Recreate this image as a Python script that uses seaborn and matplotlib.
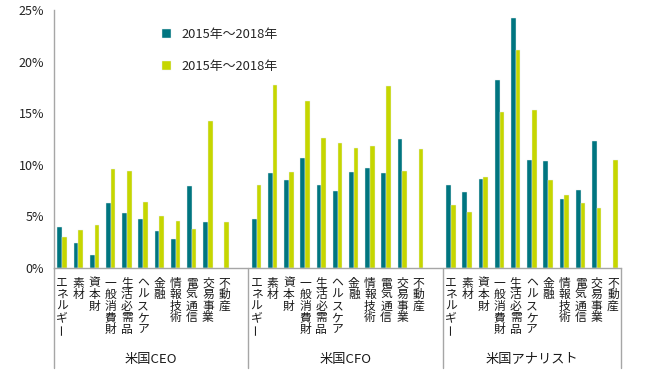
import numpy as np
import pandas as pd
import seaborn as sns
import matplotlib.pyplot as plt
from matplotlib.ticker import PercentFormatter
from matplotlib.transforms import offset_copy

groups = ["米国CEO", "米国CFO", "米国アナリスト"]
sectors = ["エネルギー", "素材", "資本財", "一般消費財", "生活必需品", "ヘルスケア",
           "金融", "情報技術", "電気通信", "交易事業", "不動産"]
series_labels = ["2015年～2018年", "2015年～2018年"]

# values in % (nan = no bar)
ceo_a = [4.0, 2.4, 1.3, 6.3, 5.3, 4.7, 3.6, 2.8, 7.9, 4.5, np.nan]
ceo_b = [3.0, 3.7, 4.2, 9.6, 9.4, 6.4, 5.0, 4.6, 3.8, 14.2, 4.5]
cfo_a = [4.7, 9.2, 8.5, 10.7, 8.0, 7.5, 9.3, 9.7, 9.2, 12.5, np.nan]
cfo_b = [8.0, 17.7, 9.3, 16.2, 12.6, 12.1, 11.6, 11.8, 17.6, 9.4, 11.5]
ana_a = [8.0, 7.4, 8.6, 18.2, 24.2, 10.5, 10.4, 6.7, 7.6, 12.3, np.nan]
ana_b = [6.1, 5.4, 8.8, 15.1, 21.1, 15.3, 8.5, 7.1, 6.3, 5.8, 10.5]

teal = "#007580"
lime = "#c6d600"

sns.set_style("white")
plt.rcParams["font.family"] = ["Noto Sans CJK JP", "DejaVu Sans"]

values = {groups[0]: (ceo_a, ceo_b), groups[1]: (cfo_a, cfo_b), groups[2]: (ana_a, ana_b)}

rows = []
order = []
for gi, g in enumerate(groups):
    for si, s in enumerate(sectors):
        slot = g + "|" + s
        order.append(slot)
        for key, v in zip(["a", "b"], values[g]):
            if not np.isnan(v[si]):
                rows.append({"slot": slot, "series": key, "value": v[si]})
    if gi < len(groups) - 1:
        order.append(g + "|")  # empty spacer slot
df = pd.DataFrame(rows)

fig = plt.figure(figsize=(6.55, 3.84), dpi=100)
ax = fig.add_axes([54 / 655, 1 - 268 / 384, 567 / 655, 258 / 384])

sns.barplot(data=df, x="slot", y="value", hue="series", order=order,
            hue_order=["a", "b"], palette=[teal, lime], saturation=1,
            width=0.58, gap=0, errorbar=None, edgecolor="#e8f0f0",
            linewidth=0.3, ax=ax)

ax.set_xlim(-0.5, len(order) - 0.5)
ax.set_ylim(0, 25)
ax.set_yticks([0, 5, 10, 15, 20, 25])
ax.yaxis.set_major_formatter(PercentFormatter(decimals=0))
ax.tick_params(axis="y", length=4, width=1, color="#a6a6a6", labelsize=9,
               labelcolor="#222222", pad=3)
ax.tick_params(axis="x", length=0, labelbottom=False)
ax.set_xlabel("")
ax.set_ylabel("")
for side in ["top", "right"]:
    ax.spines[side].set_visible(False)
for side in ["left", "bottom"]:
    ax.spines[side].set_color("#a6a6a6")
    ax.spines[side].set_linewidth(1)

# vertical category labels, one character per line
trans = ax.get_xaxis_transform()
for pos, slot in enumerate(order):
    label = slot.split("|")[1]
    for k, ch in enumerate(label):
        t = offset_copy(trans, fig=fig, x=0, y=-(8.5 + k * 11.6) * 0.72, units="points")
        ax.text(pos, 0, ch, transform=t, ha="center", va="top", fontsize=8.5,
                color="#1a1a1a", rotation=90 if ch == "ー" else 0)

# group separators and group names
bounds = [-0.5]
for gi, g in enumerate(groups):
    end = max(i for i, s in enumerate(order) if s.startswith(g + "|")) + 0.5
    bounds.append(end)
for b in bounds:
    ax.plot([b, b], [0, -100 / 258], transform=trans, color="#a6a6a6",
            lw=1, clip_on=False)
for gi, g in enumerate(groups):
    mid = (bounds[gi] + bounds[gi + 1]) / 2
    t = offset_copy(trans, fig=fig, x=0, y=-91 * 0.72, units="points")
    ax.text(mid, 0, g, transform=t, ha="center", va="center", fontsize=9.5,
            color="#1a1a1a")

handles, _ = ax.get_legend_handles_labels()
ax.legend(handles, series_labels, loc="upper left", bbox_to_anchor=(0.19, 0.93),
          frameon=False, fontsize=9.3, handlelength=0.7, handleheight=0.7,
          labelspacing=1.5, handletextpad=0.8, borderpad=0, borderaxespad=0)

fig.savefig("out.png", dpi=100)
